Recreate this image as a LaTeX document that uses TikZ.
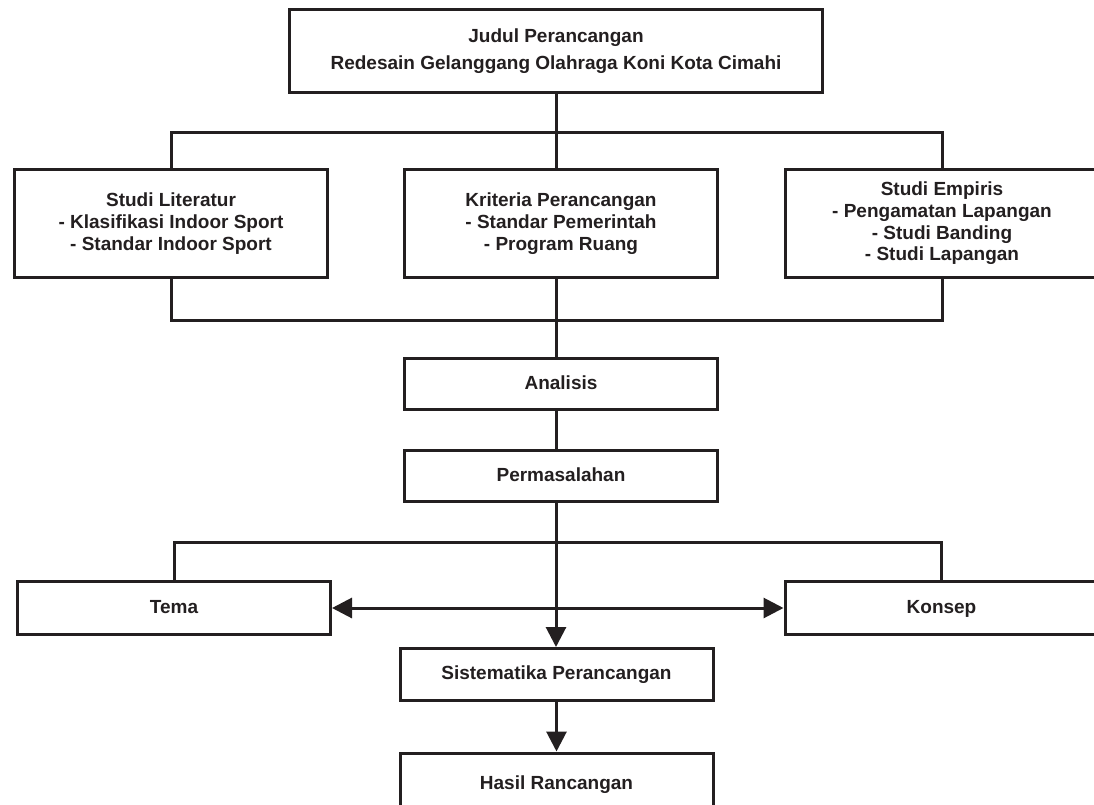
\documentclass[tikz,border=0pt]{standalone}
\usepackage{fontspec}
\setmainfont{Liberation Sans}
\usepackage{tikz}
\usetikzlibrary{calc}
\usetikzlibrary{arrows.meta}
\usetikzlibrary{positioning}
\definecolor{ink}{RGB}{35,31,32}

\begin{document}
\begin{tikzpicture}[x=1pt,y=-1pt]
  % some styles
  \tikzset{
    box/.style={
      rectangle,
      draw=ink,
      line width=3pt,
      text=ink,
      align=center,
      inner sep=0pt,
      font=\fontsize{19}{27}\selectfont\bfseries
    }
  }
  \tikzset{wide/.style={box,minimum width=313pt,minimum height=108pt,font=\fontsize{19}{21.7}\selectfont\bfseries}}
  \tikzset{flat/.style={box,minimum width=313pt,minimum height=52pt,text height=14pt,text depth=4pt}}
  \tikzset{link/.style={draw=ink,line width=3pt}}
  \tikzset{tip/.style={link,-{Triangle[length=20pt,width=20pt]}}}
  \tikzset{twotip/.style={link,{Triangle[length=20pt,width=20pt]}-{Triangle[length=20pt,width=20pt]}}}

  \useasboundingbox (0,0) rectangle (1094,805);

  % boxes
  \node[box,minimum width=533pt,minimum height=83pt] (judul) at (556,51)
    {Judul Perancangan\\Redesain Gelanggang Olahraga Koni Kota Cimahi};
  \node[wide] (literatur) at (171,223.5)
    {Studi Literatur\\- Klasifikasi Indoor Sport\\- Standar Indoor Sport};
  \node[wide] (kriteria) at (561,223.5)
    {Kriteria Perancangan\\- Standar Pemerintah\\- Program Ruang};
  \node[wide] (empiris) at (942,223.5)
    {Studi Empiris\\- Pengamatan Lapangan\\- Studi Banding\\- Studi Lapangan};
  \node[flat,minimum height=51pt] (analisis) at (561,384) {Analisis};
  \node[flat,minimum height=51pt] (masalah) at (561,476) {Permasalahan};
  \node[flat,minimum height=53pt] (tema) at (174,608) {Tema};
  \node[flat,minimum height=53pt] (konsep) at (941.5,608) {Konsep};
  \node[flat] (sistematika) at (556.5,674.5) {Sistematika Perancangan};
  \node[flat,minimum height=62pt] (hasil) at (556.5,784) {Hasil Rancangan};

  % bars
  \coordinate (upper) at (0,133);
  \coordinate (lower) at (0,320);
  \coordinate (split) at (0,542);

  \draw[link] (judul.south) -- (kriteria.north -| judul.south);
  \draw[link] (literatur.north) -- (literatur.north |- upper) -- (empiris.north |- upper) -- (empiris.north);
  \draw[link] (literatur.south) -- (literatur.south |- lower) -- (empiris.south |- lower) -- (empiris.south);
  \draw[link] (kriteria.south -| judul.south) -- (analisis.north -| judul.south);
  \draw[link] (analisis.south -| judul.south) -- (masalah.north -| judul.south);
  \draw[tip] (masalah.south -| judul.south) -- (sistematika.north -| judul.south);
  \draw[link] (tema.north) -- (tema.north |- split) -- (konsep.north |- split) -- (konsep.north);
  \draw[twotip] (tema.east) -- (konsep.west);
  \draw[tip] (sistematika.south) -- (hasil.north);

\end{tikzpicture}
\end{document}
